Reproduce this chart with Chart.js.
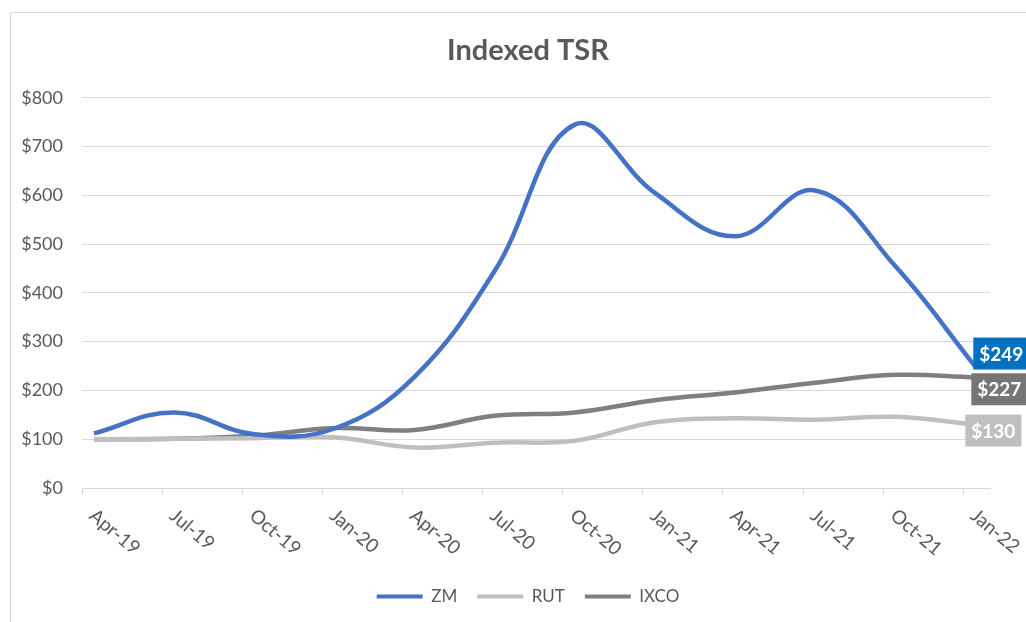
<!DOCTYPE html>
<html>
<head>
<meta charset="utf-8">
<title>Indexed TSR</title>
<script src="https://cdn.jsdelivr.net/npm/chart.js@4.4.0/dist/chart.umd.min.js"></script>
<style>
    html, body { margin: 0; padding: 0; background: #fff; }
    #wrap { position: relative; width: 1026px; height: 622px; }
</style>
</head>
<body>
<div id="wrap"><canvas id="tsr-chart"></canvas></div>
<script>
// Quarterly points, indexed to $100 at Apr-19
const quarters = ["Apr-19", "Jul-19", "Oct-19", "Jan-20", "Apr-20", "Jul-20",
                  "Oct-20", "Jan-21", "Apr-21", "Jul-21", "Oct-21", "Jan-22"];
const seriesNames = ["ZM", "RUT", "IXCO"];
const zm   = [112, 155, 110, 122, 228, 445, 745, 605, 516, 610, 455, 249];
const rut  = [100, 101, 102, 104,  83,  93,  97, 135, 143, 140, 146, 130];
const ixco = [100, 101, 107, 123, 119, 148, 155, 180, 196, 216, 232, 227];
// observations fall about two weeks after each quarter tick (date axis)
const obsOffset = 0.15;

const lineColors  = ["#4472C4", "#BFBFBF", "#7F7F7F"];
const labelColors = ["#0070C0", "#BFBFBF", "#767676"];
const textGrey = "#595959";
const font = "Lato";

// outer frame like the Excel chart border
const frame = {
    id: "frame",
    beforeDraw(chart) {
        const ctx = chart.ctx;
        ctx.save();
        ctx.strokeStyle = "#d9d9d9";
        ctx.lineWidth = 1;
        ctx.strokeRect(10.5, 12.5, 1200, 1000);
        ctx.restore();
    }
};

// x labels rotated clockwise, starting at the tick
const slantedLabels = {
    id: "slantedLabels",
    afterDraw(chart, args, opts) {
        const ctx = chart.ctx;
        const xs = chart.scales.x;
        ctx.save();
        ctx.font = "19px " + font;
        ctx.fillStyle = textGrey;
        ctx.textAlign = "left";
        ctx.textBaseline = "middle";
        quarters.forEach((lab, i) => {
            const px = xs.getPixelForValue(i);
            ctx.save();
            ctx.translate(px + opts.dx, xs.top + opts.dy);
            ctx.rotate(opts.angle * Math.PI / 180);
            ctx.fillText(lab, 0, 0);
            ctx.restore();
        });
        ctx.restore();
    }
};

// value boxes at the end of each line
const endLabels = {
    id: "endLabels",
    afterDatasetsDraw(chart, args, opts) {
        const ctx = chart.ctx;
        ctx.save();
        ctx.font = "bold 19px " + font;
        ctx.textBaseline = "middle";
        chart.data.datasets.forEach((ds, i) => {
            const meta = chart.getDatasetMeta(i);
            const pt = meta.data[meta.data.length - 1];
            const text = "$" + ds.data[ds.data.length - 1].y;
            const w = ctx.measureText(text).width + 12;
            const h = 32;
            const x = pt.x + opts.dx[i];
            const y = pt.y + opts.dy[i] - h / 2;
            ctx.fillStyle = labelColors[i];
            ctx.fillRect(x, y, w, h);
            ctx.fillStyle = "#ffffff";
            ctx.fillText(text, x + 6, y + h / 2 + 1);
        });
        ctx.restore();
    }
};

const allSeries = [zm, rut, ixco];

new Chart(document.getElementById("tsr-chart"), {
    type: "line",
    data: {
        datasets: allSeries.map((vals, i) => ({
            label: seriesNames[i],
            data: vals.map((v, q) => ({ x: q + obsOffset, y: v })),
            borderColor: lineColors[i],
            backgroundColor: lineColors[i],
            borderWidth: 4.5,
            pointRadius: 0,
            tension: 0.4,
            fill: false
        }))
    },
    options: {
        responsive: true,
        maintainAspectRatio: false,
        animation: false,
        // the Excel frame runs past the right edge, so title and legend
        // are centred on a box wider than the canvas
        layout: { padding: { left: 10, right: -20, top: 0, bottom: 7 } },
        scales: {
            x: {
                type: "linear",
                min: 0,
                max: quarters.length - 1 + 1 / 3,
                ticks: { display: false, stepSize: 1, includeBounds: false },
                grid: { drawOnChartArea: false, drawTicks: true, tickLength: 6, color: "#d9d9d9" },
                border: { display: true, color: "#d9d9d9" },
                afterFit: (scale) => { scale.height = 80; }
            },
            y: {
                min: 0,
                max: 800,
                ticks: {
                    stepSize: 100,
                    padding: 19,
                    color: textGrey,
                    font: { family: font, size: 18 },
                    callback: (v) => "$" + v
                },
                grid: { color: "#d9d9d9", drawTicks: false },
                border: { display: false },
                afterFit: (scale) => { scale.width = 72; }
            },
            // empty right-hand box: room for the end labels
            yRight: {
                type: "linear",
                position: "right",
                ticks: { display: false },
                grid: { display: false, drawTicks: false },
                border: { display: false },
                afterFit: (scale) => { scale.width = 56; }
            }
        },
        plugins: {
            title: {
                display: true,
                text: "Indexed TSR",
                color: textGrey,
                font: { family: font, size: 29, weight: "bold" },
                padding: { top: 33, bottom: 30 }
            },
            legend: {
                position: "bottom",
                labels: {
                    color: textGrey,
                    font: { family: font, size: 17 },
                    boxWidth: 46,
                    boxHeight: 4,
                    padding: 20,
                    generateLabels: (chart) => Chart.defaults.plugins.legend.labels.generateLabels(chart)
                        .map((item) => Object.assign(item, { lineWidth: 0 }))
                }
            },
            tooltip: { enabled: false },
            slantedLabels: { dx: 10, dy: 25, angle: 40 },
            endLabels: { dx: [-2, -10, -4], dy: [-13, 6, 12] }
        }
    },
    plugins: [frame, slantedLabels, endLabels]
});
</script>
</body>
</html>
